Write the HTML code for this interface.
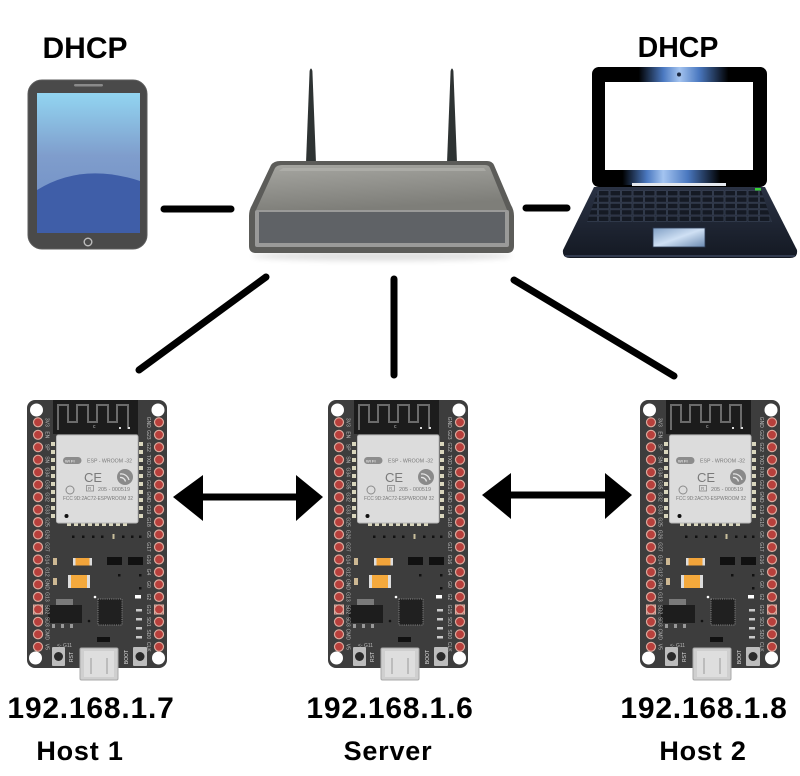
<!DOCTYPE html>
<html><head><meta charset="utf-8"><style>
html,body{margin:0;padding:0;background:#fff;}
svg{display:block;}
.lb{font-family:"Liberation Sans",Arial,sans-serif;font-weight:bold;fill:#000;}
.pin{font-family:"Liberation Sans",Arial,sans-serif;font-size:5px;fill:#b8b8b8;}
.mt{font-family:"Liberation Sans",Arial,sans-serif;fill:#7a7a7a;}
</style></head><body>
<svg width="800" height="776" viewBox="0 0 800 776" xmlns="http://www.w3.org/2000/svg">
<defs>
  <linearGradient id="scr" x1="0" y1="0" x2="0" y2="1">
    <stop offset="0" stop-color="#92d5f1"/>
    <stop offset="0.45" stop-color="#7f9dcc"/>
    <stop offset="1" stop-color="#6c8bc3"/>
  </linearGradient>
  <linearGradient id="rtop" x1="0" y1="0" x2="0.3" y2="1">
    <stop offset="0" stop-color="#a6a6a1"/>
    <stop offset="1" stop-color="#7e7e79"/>
  </linearGradient>
  <linearGradient id="lidT" x1="0" y1="0" x2="1" y2="0">
    <stop offset="0" stop-color="#000"/>
    <stop offset="0.25" stop-color="#000"/>
    <stop offset="0.4" stop-color="#4a78c0"/>
    <stop offset="0.5" stop-color="#a4c4f0"/>
    <stop offset="0.62" stop-color="#4a78c0"/>
    <stop offset="0.8" stop-color="#000"/>
    <stop offset="1" stop-color="#000"/>
  </linearGradient>
  <linearGradient id="lidB" x1="0" y1="0" x2="1" y2="0">
    <stop offset="0" stop-color="#000"/>
    <stop offset="0.15" stop-color="#000"/>
    <stop offset="0.3" stop-color="#4a78c0"/>
    <stop offset="0.4" stop-color="#a4c4f0"/>
    <stop offset="0.55" stop-color="#4a78c0"/>
    <stop offset="0.75" stop-color="#000"/>
    <stop offset="1" stop-color="#000"/>
  </linearGradient>
  <linearGradient id="base" x1="0" y1="0" x2="0" y2="1">
    <stop offset="0" stop-color="#2a3244"/>
    <stop offset="1" stop-color="#141923"/>
  </linearGradient>
  <linearGradient id="pad" x1="0" y1="0" x2="1" y2="1">
    <stop offset="0" stop-color="#7f9ec4"/>
    <stop offset="0.5" stop-color="#cfe0f4"/>
    <stop offset="1" stop-color="#6a89b0"/>
  </linearGradient>
  <pattern id="keys" x="0" y="190" width="11.5" height="6.4" patternUnits="userSpaceOnUse">
    <rect x="0.6" y="0.6" width="10.3" height="5.2" fill="#151a24" stroke="#3b4558" stroke-width="0.6"/>
  </pattern>
  <filter id="blur" x="-20%" y="-200%" width="140%" height="500%"><feGaussianBlur stdDeviation="3"/></filter>

  <g id="esp">
    <rect x="0" y="0" width="140" height="268" rx="8" fill="#3d3d3d"/>
    <rect x="26" y="0" width="85" height="34" fill="#1c1c1c"/>
    <path d="M31,30 V5 H41 V22 H50 V5 H61 V22 H70 V5 H81 V22 H90 V5 H101 V29" fill="none" stroke="#6b6b6b" stroke-width="2"/>
    <rect x="92" y="27" width="2" height="2" fill="#ddd"/>
    <rect x="101" y="27" width="2" height="2" fill="#ddd"/>
    <circle cx="9.5" cy="10" r="6.5" fill="#fff"/>
    <circle cx="131" cy="10" r="6.5" fill="#fff"/>
    <circle cx="8.5" cy="258" r="6.5" fill="#fff"/>
    <circle cx="131.5" cy="258" r="6.5" fill="#fff"/>
    <g fill="#d9d6bd">
      <rect x="24" y="42" width="4" height="4"/><rect x="24" y="50" width="4" height="4"/><rect x="24" y="58" width="4" height="4"/><rect x="24" y="66" width="4" height="4"/><rect x="24" y="74" width="4" height="4"/><rect x="24" y="82" width="4" height="4"/><rect x="24" y="90" width="4" height="4"/><rect x="24" y="98" width="4" height="4"/><rect x="24" y="106" width="4" height="4"/><rect x="24" y="114" width="4" height="4"/>
      <rect x="112" y="42" width="4" height="4"/><rect x="112" y="50" width="4" height="4"/><rect x="112" y="58" width="4" height="4"/><rect x="112" y="66" width="4" height="4"/><rect x="112" y="74" width="4" height="4"/><rect x="112" y="82" width="4" height="4"/><rect x="112" y="90" width="4" height="4"/><rect x="112" y="98" width="4" height="4"/><rect x="112" y="106" width="4" height="4"/><rect x="112" y="114" width="4" height="4"/>
      <rect x="40" y="121" width="4" height="5"/><rect x="47" y="121" width="4" height="5"/><rect x="54" y="121" width="4" height="5"/><rect x="61" y="121" width="4" height="5"/><rect x="68" y="121" width="4" height="5"/><rect x="75" y="121" width="4" height="5"/><rect x="82" y="121" width="4" height="5"/><rect x="89" y="121" width="4" height="5"/><rect x="96" y="121" width="4" height="5"/>
    </g>
    <rect x="29.5" y="35" width="81.5" height="88" rx="2" fill="#dcdcdc" stroke="#b8b8b8" stroke-width="1"/>
    <rect x="36" y="57" width="18.5" height="7" rx="3.5" fill="#8c8c8c"/>
    <circle cx="98" cy="77" r="8" fill="#8a8a8a"/>
    <path d="M93,74 a8,8 0 0 1 9,6 M93,77.5 a5,5 0 0 1 5.5,4" fill="none" stroke="#e6e6e6" stroke-width="1.3"/>
    <circle cx="43" cy="90" r="4" fill="none" stroke="#8a8a8a" stroke-width="1"/>
    <rect x="59.5" y="85.5" width="7" height="5.5" fill="none" stroke="#8a8a8a" stroke-width="0.8"/>
    <circle cx="39.5" cy="116" r="2" fill="#111"/>
    <g fill="#111">
      <rect x="45" y="135.5" width="2.5" height="2.5"/><rect x="55" y="135.5" width="2.5" height="2.5"/><rect x="65" y="135.5" width="2.5" height="2.5"/><rect x="74" y="135.5" width="2.5" height="2.5"/>
      <rect x="95" y="135.5" width="2.5" height="2.5"/><rect x="104" y="135.5" width="2.5" height="2.5"/><rect x="112" y="135.5" width="2.5" height="2.5"/>
      <rect x="80" y="157" width="15" height="8"/><rect x="101" y="157" width="15" height="8"/>
      <rect x="91" y="174" width="2.5" height="2.5"/><rect x="112" y="174" width="2.5" height="2.5"/><rect x="112" y="187" width="2.5" height="2.5"/>
      <rect x="70" y="237" width="13" height="5"/>
    </g>
    <rect x="85.5" y="134" width="2" height="5" fill="#c9bf9c"/>
    <rect x="26" y="158" width="4" height="7" fill="#cdb893"/>
    <rect x="26" y="178" width="4" height="7" fill="#cdb893"/>
    <rect x="46" y="158" width="19" height="7.5" fill="#f2a43a"/>
    <rect x="46" y="158" width="2.5" height="7.5" fill="#ddd"/><rect x="62.5" y="158" width="2.5" height="7.5" fill="#ddd"/>
    <rect x="41" y="175" width="22" height="13" fill="#f4a93c"/>
    <rect x="41" y="175" width="3" height="13" fill="#ddd"/><rect x="60" y="175" width="3" height="13" fill="#ddd"/>
    <rect x="108" y="195" width="6" height="3.5" fill="#fff"/>
    <rect x="29" y="199" width="17" height="6" fill="#7a7a7a"/>
    <rect x="21" y="205" width="34" height="18" fill="#1d1d1d"/>
    <rect x="25" y="224" width="3" height="4" fill="#999"/><rect x="34" y="224" width="3" height="4" fill="#999"/><rect x="43" y="224" width="3" height="4" fill="#999"/>
    <rect x="71" y="199" width="24" height="26" fill="#202020" stroke="#8a8a8a" stroke-width="1" stroke-dasharray="1,1.2"/>
    <circle cx="68" cy="197" r="1.3" fill="#fff"/>
    <circle cx="62" cy="221" r="1.3" fill="#111"/>
    <g fill="#c9c9c9">
      <rect x="109" y="209" width="6" height="2.5"/><rect x="109" y="218" width="6" height="2.5"/><rect x="109" y="227" width="6" height="2.5"/><rect x="109" y="236" width="6" height="2.5"/>
    </g>
    <rect x="25" y="247" width="13" height="19" rx="1" fill="#bdbdbd"/>
    <circle cx="31.5" cy="256.5" r="4.5" fill="#2a2a2a"/>
    <rect x="106" y="247" width="14" height="19" rx="1" fill="#bdbdbd"/>
    <circle cx="113" cy="256.5" r="4.5" fill="#2a2a2a"/>
    <rect x="53" y="248" width="38" height="32" rx="1.5" fill="#cfcfcf" stroke="#a9a9a9" stroke-width="1"/>
    <rect x="57" y="251" width="30" height="26" fill="#dedede"/>
    <line x1="64" y1="258" x2="64" y2="274" stroke="#999" stroke-width="1"/>
    <line x1="80" y1="258" x2="80" y2="274" stroke="#999" stroke-width="1"/>
    <g fill="#b8403c" stroke="#dcaa9e" stroke-width="1.2">
      <circle cx="11" cy="22.3" r="4.5"/><circle cx="11" cy="34.8" r="4.5"/><circle cx="11" cy="47.2" r="4.5"/><circle cx="11" cy="59.7" r="4.5"/><circle cx="11" cy="72.2" r="4.5"/><circle cx="11" cy="84.7" r="4.5"/><circle cx="11" cy="97.1" r="4.5"/><circle cx="11" cy="109.6" r="4.5"/><circle cx="11" cy="122.1" r="4.5"/><circle cx="11" cy="134.5" r="4.5"/><circle cx="11" cy="147" r="4.5"/><circle cx="11" cy="159.5" r="4.5"/><circle cx="11" cy="172" r="4.5"/><circle cx="11" cy="184.4" r="4.5"/><circle cx="11" cy="196.9" r="4.5"/><circle cx="11" cy="209.4" r="4.5"/><circle cx="11" cy="221.8" r="4.5"/><circle cx="11" cy="234.3" r="4.5"/><circle cx="11" cy="246.8" r="4.5"/>
      <circle cx="132" cy="22.3" r="4.5"/><circle cx="132" cy="34.8" r="4.5"/><circle cx="132" cy="47.2" r="4.5"/><circle cx="132" cy="59.7" r="4.5"/><circle cx="132" cy="72.2" r="4.5"/><circle cx="132" cy="84.7" r="4.5"/><circle cx="132" cy="97.1" r="4.5"/><circle cx="132" cy="109.6" r="4.5"/><circle cx="132" cy="122.1" r="4.5"/><circle cx="132" cy="134.5" r="4.5"/><circle cx="132" cy="147" r="4.5"/><circle cx="132" cy="159.5" r="4.5"/><circle cx="132" cy="172" r="4.5"/><circle cx="132" cy="184.4" r="4.5"/><circle cx="132" cy="196.9" r="4.5"/><circle cx="132" cy="209.4" r="4.5"/><circle cx="132" cy="221.8" r="4.5"/><circle cx="132" cy="234.3" r="4.5"/><circle cx="132" cy="246.8" r="4.5"/>
    </g>
    <rect x="6.5" y="205" width="9" height="9" fill="none" stroke="#dcaa9e" stroke-width="1"/>
    <rect x="127.5" y="205" width="9" height="9" fill="none" stroke="#dcaa9e" stroke-width="1"/>
  </g>
</defs>

<!-- Phone -->
<rect x="28" y="80" width="119" height="169" rx="14" fill="#4a4a4a" stroke="#5c5c5c" stroke-width="1"/>
<rect x="37" y="93" width="103" height="140" fill="url(#scr)"/>
<path d="M37,190 Q82,162 140,181 L140,233 L37,233 Z" fill="#3f5ea8"/>
<rect x="74" y="84" width="29" height="2.5" rx="1.2" fill="#8a8a8a"/>
<circle cx="88" cy="242" r="3.8" fill="none" stroke="#bdbdbd" stroke-width="1.4"/>

<!-- Router -->
<ellipse cx="382" cy="256" rx="130" ry="5" fill="#000" opacity="0.12" filter="url(#blur)"/>
<path d="M309.6,71 Q311,66 312.4,71 L316,163 L306,163 Z" fill="#2e3333"/>
<path d="M450.6,71 Q452,66 453.4,71 L457,163 L447,163 Z" fill="#2e3333"/>
<path d="M280,161 L487,161 Q492,161 494,165 L511,205 Q514,210 514,216 L514,246 Q514,253 507,253 L256,253 Q249,253 249,246 L249,216 Q249,210 252,205 L271,165 Q274,161 280,161 Z" fill="#5c5c59"/>
<path d="M282,165 L485,165 Q489,165 490,168 L507,210 L256,210 L275,168 Q277,165 282,165 Z" fill="url(#rtop)"/>
<path d="M283,168 L484,168 L486,171 L279,171 Z" fill="#b5b5b0" opacity="0.6"/>
<rect x="255" y="210" width="254" height="37" rx="2" fill="#9a9a99"/>
<rect x="259" y="212" width="246" height="31" fill="#5f6266"/>

<!-- Laptop -->
<rect x="592" y="67" width="175" height="120" rx="7" fill="#000"/>
<rect x="598" y="67" width="163" height="15" fill="url(#lidT)"/>
<rect x="598" y="170" width="163" height="15" fill="url(#lidB)"/>
<rect x="605" y="82" width="148" height="88" fill="#fff"/>
<circle cx="679" cy="74.5" r="2.4" fill="#1b2a44" stroke="#9db8e0" stroke-width="0.8"/>
<path d="M594,187 L765,187 L797,250 Q798,258 790,258 L570,258 Q562,258 563,250 Z" fill="url(#base)"/>
<rect x="632" y="183" width="94" height="3" fill="#e4e8ee"/>
<path d="M598,190 L761,190 L772,222 L587,222 Z" fill="url(#keys)"/>
<rect x="755" y="188" width="6" height="2.5" fill="#37d037"/>
<rect x="653" y="228" width="52" height="19" fill="url(#pad)" stroke="#2c3a52" stroke-width="0.8"/>
<line x1="565" y1="256" x2="795" y2="256" stroke="#3b455c" stroke-width="1.5"/>

<!-- Top labels -->
<text class="lb" x="85" y="58" font-size="30" text-anchor="middle">DHCP</text>
<text class="lb" x="678" y="57" font-size="28.5" text-anchor="middle">DHCP</text>

<!-- Connectors -->
<g stroke="#000" stroke-width="7" stroke-linecap="round" fill="none">
  <line x1="164" y1="209" x2="231" y2="209"/>
  <line x1="526" y1="208" x2="567" y2="208"/>
  <line x1="266" y1="277" x2="139" y2="370"/>
  <line x1="394" y1="279" x2="394" y2="375"/>
  <line x1="514" y1="280" x2="674" y2="376"/>
</g>

<!-- Arrows -->
<path d="M173,497 L203,475 L203,493.5 L296,493.5 L296,475 L323,497 L296,521 L296,500.5 L203,500.5 L203,521 Z" fill="#000"/>
<path d="M482,495 L511,473 L511,491.5 L605,491.5 L605,473 L632,495 L605,519 L605,498.5 L511,498.5 L511,519 Z" fill="#000"/>

<!-- Boards -->
<use href="#esp" x="27" y="400"/>
<use href="#esp" x="328" y="400"/>
<use href="#esp" x="640" y="400"/>

<g transform="translate(27,400)">
  <text class="mt" x="60" y="62.5" font-size="5.4" textLength="45" lengthAdjust="spacingAndGlyphs">ESP - WROOM -32</text>
  <text class="mt" x="38" y="62.3" font-size="4" style="fill:#fff">WI FI</text>
  <text class="mt" x="57" y="82" font-size="13">CE</text>
  <text class="mt" x="61" y="90" font-size="4.5">R</text>
  <text class="mt" x="71" y="91" font-size="5.4" textLength="32" lengthAdjust="spacingAndGlyphs">205 - 000519</text>
  <text class="mt" x="36" y="100" font-size="5.2" textLength="70" lengthAdjust="spacingAndGlyphs">FCC 9D:2AC72-ESPWROOM 32</text>
  <text class="pin" x="66" y="28">c</text>
  <text class="pin" x="30" y="247" font-size="4.5">&lt;- G11</text>
  <text class="pin" transform="translate(46,257) rotate(-90)" text-anchor="middle" font-size="6" style="fill:#ddd">RST</text>
  <text class="pin" transform="translate(101,257) rotate(-90)" text-anchor="middle" font-size="6" style="fill:#ddd">BOOT</text>
  <text class="pin" transform="translate(19.5,0) rotate(90)" text-anchor="middle" dominant-baseline="central"><tspan x="22.3">3V3</tspan><tspan x="34.8">EN</tspan><tspan x="47.2">SP</tspan><tspan x="59.7">SN</tspan><tspan x="72.2">G34</tspan><tspan x="84.7">G35</tspan><tspan x="97.1">G32</tspan><tspan x="109.6">G33</tspan><tspan x="122.1">G25</tspan><tspan x="134.5">G26</tspan><tspan x="147">G27</tspan><tspan x="159.5">G14</tspan><tspan x="172">G12</tspan><tspan x="184.4">GND</tspan><tspan x="196.9">G13</tspan><tspan x="209.4">SD2</tspan><tspan x="221.8">SD3</tspan><tspan x="234.3">CMD</tspan><tspan x="246.8">V5</tspan></text>
  <text class="pin" transform="translate(121,0) rotate(90)" text-anchor="middle" dominant-baseline="central"><tspan x="22.3">GND</tspan><tspan x="34.8">G23</tspan><tspan x="47.2">G22</tspan><tspan x="59.7">TXD</tspan><tspan x="72.2">RXD</tspan><tspan x="84.7">G21</tspan><tspan x="97.1">GND</tspan><tspan x="109.6">G19</tspan><tspan x="122.1">G18</tspan><tspan x="134.5">G5</tspan><tspan x="147">G17</tspan><tspan x="159.5">G16</tspan><tspan x="172">G4</tspan><tspan x="184.4">G0</tspan><tspan x="196.9">G2</tspan><tspan x="209.4">G15</tspan><tspan x="221.8">SD1</tspan><tspan x="234.3">SD0</tspan><tspan x="246.8">CLK</tspan></text>
</g>
<g transform="translate(328,400)">
  <text class="mt" x="60" y="62.5" font-size="5.4" textLength="45" lengthAdjust="spacingAndGlyphs">ESP - WROOM -32</text>
  <text class="mt" x="38" y="62.3" font-size="4" style="fill:#fff">WI FI</text>
  <text class="mt" x="57" y="82" font-size="13">CE</text>
  <text class="mt" x="61" y="90" font-size="4.5">R</text>
  <text class="mt" x="71" y="91" font-size="5.4" textLength="32" lengthAdjust="spacingAndGlyphs">205 - 000519</text>
  <text class="mt" x="36" y="100" font-size="5.2" textLength="70" lengthAdjust="spacingAndGlyphs">FCC 9D:2AC72-ESPWROOM 32</text>
  <text class="pin" x="66" y="28">c</text>
  <text class="pin" x="30" y="247" font-size="4.5">&lt;- G11</text>
  <text class="pin" transform="translate(46,257) rotate(-90)" text-anchor="middle" font-size="6" style="fill:#ddd">RST</text>
  <text class="pin" transform="translate(101,257) rotate(-90)" text-anchor="middle" font-size="6" style="fill:#ddd">BOOT</text>
  <text class="pin" transform="translate(19.5,0) rotate(90)" text-anchor="middle" dominant-baseline="central"><tspan x="22.3">3V3</tspan><tspan x="34.8">EN</tspan><tspan x="47.2">SP</tspan><tspan x="59.7">SN</tspan><tspan x="72.2">G34</tspan><tspan x="84.7">G35</tspan><tspan x="97.1">G32</tspan><tspan x="109.6">G33</tspan><tspan x="122.1">G25</tspan><tspan x="134.5">G26</tspan><tspan x="147">G27</tspan><tspan x="159.5">G14</tspan><tspan x="172">G12</tspan><tspan x="184.4">GND</tspan><tspan x="196.9">G13</tspan><tspan x="209.4">SD2</tspan><tspan x="221.8">SD3</tspan><tspan x="234.3">CMD</tspan><tspan x="246.8">V5</tspan></text>
  <text class="pin" transform="translate(121,0) rotate(90)" text-anchor="middle" dominant-baseline="central"><tspan x="22.3">GND</tspan><tspan x="34.8">G23</tspan><tspan x="47.2">G22</tspan><tspan x="59.7">TXD</tspan><tspan x="72.2">RXD</tspan><tspan x="84.7">G21</tspan><tspan x="97.1">GND</tspan><tspan x="109.6">G19</tspan><tspan x="122.1">G18</tspan><tspan x="134.5">G5</tspan><tspan x="147">G17</tspan><tspan x="159.5">G16</tspan><tspan x="172">G4</tspan><tspan x="184.4">G0</tspan><tspan x="196.9">G2</tspan><tspan x="209.4">G15</tspan><tspan x="221.8">SD1</tspan><tspan x="234.3">SD0</tspan><tspan x="246.8">CLK</tspan></text>
</g>
<g transform="translate(640,400)">
  <text class="mt" x="60" y="62.5" font-size="5.4" textLength="45" lengthAdjust="spacingAndGlyphs">ESP - WROOM -32</text>
  <text class="mt" x="38" y="62.3" font-size="4" style="fill:#fff">WI FI</text>
  <text class="mt" x="57" y="82" font-size="13">CE</text>
  <text class="mt" x="61" y="90" font-size="4.5">R</text>
  <text class="mt" x="71" y="91" font-size="5.4" textLength="32" lengthAdjust="spacingAndGlyphs">205 - 000519</text>
  <text class="mt" x="36" y="100" font-size="5.2" textLength="70" lengthAdjust="spacingAndGlyphs">FCC 9D:2AC70-ESPWROOM 32</text>
  <text class="pin" x="66" y="28">c</text>
  <text class="pin" x="30" y="247" font-size="4.5">&lt;- G11</text>
  <text class="pin" transform="translate(46,257) rotate(-90)" text-anchor="middle" font-size="6" style="fill:#ddd">RST</text>
  <text class="pin" transform="translate(101,257) rotate(-90)" text-anchor="middle" font-size="6" style="fill:#ddd">BOOT</text>
  <text class="pin" transform="translate(19.5,0) rotate(90)" text-anchor="middle" dominant-baseline="central"><tspan x="22.3">3V3</tspan><tspan x="34.8">EN</tspan><tspan x="47.2">SP</tspan><tspan x="59.7">SN</tspan><tspan x="72.2">G34</tspan><tspan x="84.7">G35</tspan><tspan x="97.1">G32</tspan><tspan x="109.6">G33</tspan><tspan x="122.1">G25</tspan><tspan x="134.5">G26</tspan><tspan x="147">G27</tspan><tspan x="159.5">G14</tspan><tspan x="172">G12</tspan><tspan x="184.4">GND</tspan><tspan x="196.9">G13</tspan><tspan x="209.4">SD2</tspan><tspan x="221.8">SD3</tspan><tspan x="234.3">CMD</tspan><tspan x="246.8">V5</tspan></text>
  <text class="pin" transform="translate(121,0) rotate(90)" text-anchor="middle" dominant-baseline="central"><tspan x="22.3">GND</tspan><tspan x="34.8">G23</tspan><tspan x="47.2">G22</tspan><tspan x="59.7">TXD</tspan><tspan x="72.2">RXD</tspan><tspan x="84.7">G21</tspan><tspan x="97.1">GND</tspan><tspan x="109.6">G19</tspan><tspan x="122.1">G18</tspan><tspan x="134.5">G5</tspan><tspan x="147">G17</tspan><tspan x="159.5">G16</tspan><tspan x="172">G4</tspan><tspan x="184.4">G0</tspan><tspan x="196.9">G2</tspan><tspan x="209.4">G15</tspan><tspan x="221.8">SD1</tspan><tspan x="234.3">SD0</tspan><tspan x="246.8">CLK</tspan></text>
</g>

<!-- Bottom labels -->
<text class="lb" x="91" y="718" font-size="30" letter-spacing="0.8" text-anchor="middle">192.168.1.7</text>
<text class="lb" x="390" y="718" font-size="30" letter-spacing="0.8" text-anchor="middle">192.168.1.6</text>
<text class="lb" x="704" y="718" font-size="30" letter-spacing="0.8" text-anchor="middle">192.168.1.8</text>
<text class="lb" x="80" y="760" font-size="27" letter-spacing="0.8" text-anchor="middle">Host 1</text>
<text class="lb" x="388" y="760" font-size="27" letter-spacing="0.8" text-anchor="middle">Server</text>
<text class="lb" x="703" y="760" font-size="27" letter-spacing="0.8" text-anchor="middle">Host 2</text>
</svg>
</body></html>
